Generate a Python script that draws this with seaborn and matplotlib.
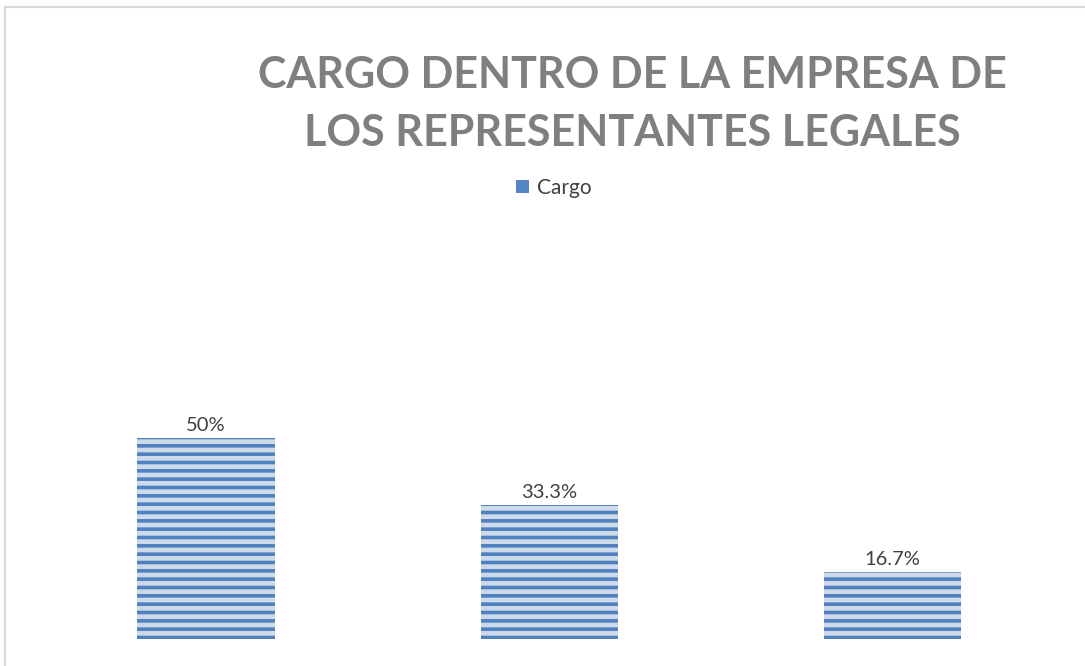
import matplotlib
matplotlib.use("Agg")
import matplotlib.pyplot as plt
from matplotlib.patches import Rectangle
import seaborn as sns
import pandas as pd

# Chart data
categories = ["A", "B", "C"]
values = [50, 33.3, 16.7]
series_name = "Cargo"
title = "CARGO DENTRO DE LA EMPRESA DE\nLOS REPRESENTANTES LEGALES"

df = pd.DataFrame({"cat": categories, "val": values, "serie": series_name})

sns.set_theme(style="white")
plt.rcParams["font.family"] = ["Lato", "DejaVu Sans"]
plt.rcParams["hatch.linewidth"] = 2.6

fig = plt.figure(figsize=(10.85, 6.66), dpi=100)
ax = fig.add_axes([34.5 / 1085, 27 / 666, 1029.5 / 1085, 241 / 666])

sns.barplot(data=df, x="cat", y="val", hue="serie", width=0.4,
            palette=["#cbd9ed"], ax=ax, legend=True)

for bar in ax.patches:
    bar.set_hatch("--")
    bar.set_edgecolor("#4f80c0")
    bar.set_linewidth(0)

labels = [f"{v:g}%" for v in values]
ax.bar_label(ax.containers[0], labels=labels, padding=3, fontsize=14.5, color="#404040")

ax.set_ylim(0, 60)
ax.set_xlim(-0.5, 2.5)
ax.set_xlabel("")
ax.set_ylabel("")
ax.set_xticks([])
ax.set_yticks([])
sns.despine(ax=ax, left=True, bottom=True)

# legend
leg = ax.legend(loc="center", bbox_to_anchor=(554 / 1085, 1 - 188 / 666),
                bbox_transform=fig.transFigure, frameon=False, fontsize=15,
                handlelength=0.6, handleheight=0.6, handletextpad=0.4, labelcolor="#404040")
for h in leg.legend_handles:
    h.set_hatch(None)
    h.set_facecolor("#5585c5")

# title
fig.text(632 / 1085, 1 - 104 / 666, title, ha="center", va="center",
         fontsize=31, fontweight="bold", color="#7f7f7f", linespacing=1.55)

# chart area border
fig.patches.append(Rectangle((5 / 1085, -0.1), 1.2, 1.1 - 7 / 666, transform=fig.transFigure,
                             fill=False, edgecolor="#d9d9d9", linewidth=1.5))

fig.savefig("out.png", dpi=100)
